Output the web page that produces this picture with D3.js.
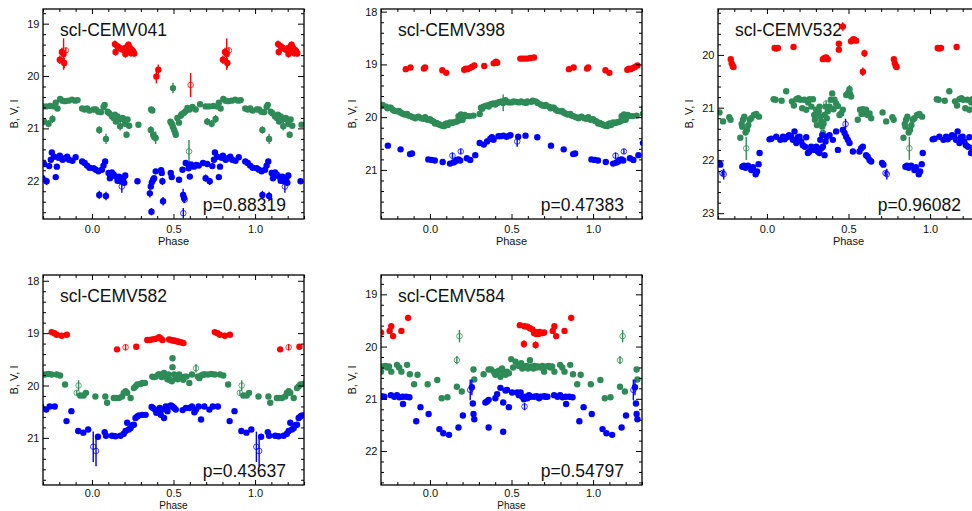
<!DOCTYPE html>
<meta charset="utf-8">
<head>
<style>
  body { margin: 0; background: #fff; }
  svg { font-family: "Liberation Sans", Arial, Helvetica, sans-serif; }
  .axis path { display: none; }
  .axis line { stroke: #000; stroke-width: 1; }
  .axis text { font-size: 11px; fill: #111; }
  .frame { fill: none; stroke: #000; stroke-width: 1.3; }
</style>
</head>
<body>
<div id="graph"></div>
<script src="https://d3js.org/d3.v7.min.js"></script>
<script>

// ---- labels / ticks
var panelNames = ["scl-CEMV041", "scl-CEMV398", "scl-CEMV532", "scl-CEMV582", "scl-CEMV584"];
var periodLabels = ["p=0.88319", "p=0.47383", "p=0.96082", "p=0.43637", "p=0.54797"];
var magRanges = [[18.72, 22.73], [17.95, 21.93], [19.13, 23.11], [17.89, 21.9], [18.63, 22.65]];
var magTicks = [[19, 20, 21, 22], [18, 19, 20, 21], [20, 21, 22, 23], [18, 19, 20, 21], [19, 20, 21, 22]];
var phaseTicks = [0.0, 0.5, 1.0];
var phaseRange = [-0.3, 1.3];

// ---- data: [phase, mag, err, open]
var I041 = [[0.141,19.39,.07],[0.145,19.54,.07],[0.157,19.43,.05],[0.167,19.46,.05],[0.177,19.48,.05],[0.19,19.50,.05],[0.20,19.47,.06],[0.205,19.58,.07],[0.21,19.53,.05],[0.218,19.43,.06],[0.224,19.40,.06],[0.232,19.46,.05],[0.239,19.56,.07],[0.245,19.50,.06],[0.253,19.53,.05],[0.259,19.57,.06],
  [0.395,20.01,.13],[0.407,19.88,.1],[0.605,20.17,.23,1],[0.803,19.69,.08],[0.816,19.54,.08],[0.83,19.75,.1],[0.826,19.58,.3],[0.84,19.51,.05,1]];
var V041 = [[0.01,20.64],[0.024,20.64],[0.039,20.68],[0.045,21.03,.07],[0.055,20.69],[0.071,20.59],[0.078,20.55],[0.086,21.20,.1],[0.096,20.68],[0.106,20.71],[0.122,20.77],[0.133,20.80],[0.14,20.74,.05],[0.147,20.87,.05],[0.157,20.77],[0.167,20.83,.05],[0.173,20.96,.08],[0.188,20.80],[0.196,20.83],[0.204,20.91,.05],[0.212,21.12,.06],[0.218,20.83],[0.228,20.95],[0.285,20.93],
  [0.361,21.03,.07],[0.363,20.64],[0.37,20.66],[0.375,21.12,.05],[0.383,21.17,.08],[0.391,21.18,.12],[0.481,20.87],[0.487,20.90],[0.493,20.93],[0.497,20.23,.1],[0.497,20.98],[0.504,21.03,.06],[0.51,21.08],[0.514,21.12,.06],[0.524,20.80],[0.534,20.89],[0.544,20.76],[0.55,20.73],[0.565,20.70],[0.575,20.67],[0.585,20.61],[0.595,21.44,.22,1],[0.599,20.64],[0.616,20.59],[0.636,20.64],[0.663,20.54],
  [0.697,20.58],[0.707,20.87,.07],[0.718,20.58],[0.734,20.91,.07],[0.744,20.57],[0.758,20.82,.08],[0.768,20.58],[0.778,20.51],[0.789,20.62],[0.805,20.44],[0.819,20.47],[0.835,20.48],[0.856,20.47],[0.878,20.45],[0.898,20.47],[0.912,20.46],[0.94,20.62],[0.955,20.64],[0.97,20.62],[0.985,20.66]];
var B041 = [[0.01,21.76],[0.024,21.79],[0.04,21.82],[0.045,22.27,.08],[0.061,21.79],[0.071,21.71],[0.081,21.63],[0.086,22.29,.08],[0.102,21.85],[0.11,21.95,.06],[0.122,21.84],[0.133,21.88],[0.147,21.92],[0.157,22.0],[0.167,21.92],[0.177,22.01,.05],[0.183,22.11,.12,1],[0.192,21.95],[0.198,22.04,.05],[0.204,21.9],[0.279,22.01],
  [0.355,22.24,.08],[0.361,22.11],[0.365,22.59,.07],[0.367,22.03],[0.375,21.98],[0.381,21.95],[0.391,21.82],[0.424,21.80],[0.428,21.85],[0.432,22.01,.07],[0.436,22.39,.08],[0.483,21.85],[0.489,21.93],[0.534,21.98],[0.555,21.79],[0.559,22.27,.12],[0.565,22.33,.1],[0.569,22.36,.05,1],[0.56,22.62,.1,1],
  [0.575,21.66],[0.592,21.76],[0.6,21.92],[0.607,21.69],[0.625,21.73],[0.64,21.70],[0.655,21.71],[0.681,21.66],[0.697,21.95,.07],[0.707,21.68],[0.722,22.01,.07],[0.738,21.72],[0.748,21.6],[0.754,21.46],[0.768,21.54],[0.778,21.93,.05],[0.785,21.73],[0.795,21.56],[0.803,21.52],[0.82,21.6],[0.834,21.57],[0.848,21.54],[0.86,21.6],[0.88,21.62],[0.90,21.55],[0.94,21.63],[0.955,21.66],[0.97,21.71],[0.985,21.75]];

var I398 = [[0.076,19.11],[0.10,19.16],[0.21,19.10],[0.22,19.08],[0.23,19.09],[0.243,19.07],[0.257,19.05],[0.272,19.02],[0.333,19.03],[0.391,18.98],[0.405,18.95],[0.412,18.97],[0.554,18.89],[0.568,18.89],[0.582,18.89],[0.598,18.89],[0.615,18.88],[0.638,18.87],[0.852,19.09],[0.881,19.06],[0.963,19.08],[0.97,19.06]];
var V398 = [[0.0,20.04],[0.01,20.07],[0.021,20.08],[0.031,20.12],[0.041,20.11],[0.05,20.13],[0.058,20.14],[0.065,20.15],[0.072,20.16],[0.086,20.17,.05],[0.095,20.13],[0.103,20.12],[0.11,20.15],[0.123,20.10],[0.135,20.11],[0.144,20.10],[0.155,20.09],[0.165,20.08],[0.175,19.98],[0.18,20.06],[0.185,20.03],[0.19,19.95],[0.195,20.01],[0.2,20.05],[0.206,19.99],[0.213,19.96],[0.226,19.98],[0.243,19.98],[0.267,19.97],[0.305,19.94],
  [0.313,19.82],[0.32,19.84],[0.329,19.80],[0.34,19.79],[0.35,19.78],[0.36,19.80],[0.37,19.76],[0.38,19.75],[0.391,19.74],[0.40,19.76],[0.412,19.73],[0.42,19.72],[0.432,19.71],[0.44,19.70],[0.449,19.73,.16],[0.463,19.68],[0.47,19.71],[0.484,19.72],[0.5,19.72],[0.514,19.70],[0.53,19.71],[0.545,19.72],[0.56,19.70],[0.576,19.72],[0.59,19.73],[0.597,19.70],[0.621,19.71],[0.63,19.69],[0.648,19.70],[0.66,19.73],
  [0.679,19.76],[0.69,19.78],[0.704,19.79],[0.71,19.77],[0.73,19.80],[0.74,19.83],[0.751,19.82],[0.76,19.82],[0.772,19.86],[0.78,19.88],[0.798,19.89],[0.81,19.88],[0.819,19.91],[0.83,19.93],[0.844,19.95],[0.86,19.94],[0.868,19.97],[0.88,19.98],[0.895,20.0],[0.91,20.02],[0.922,20.0],[0.93,19.99],[0.947,20.02],[0.96,20.03],[0.971,20.0,.05],[0.985,20.05]];
var B398 = [[0.01,20.81],[0.03,20.82],[0.078,20.85],[0.123,20.88],[0.138,20.73,.06,1],[0.144,20.86],[0.154,20.84],[0.165,20.81],[0.175,20.80],[0.185,20.82],[0.189,20.65,.05,1],[0.226,20.78],[0.247,20.81],[0.278,20.72],[0.305,20.49],[0.33,20.52],[0.35,20.46],[0.37,20.41],[0.38,20.38],[0.39,20.43],[0.42,20.36],[0.434,20.36],[0.45,20.35],[0.47,20.37],[0.486,20.35],[0.494,20.34],[0.535,20.46,.1,1],[0.541,20.37],[0.586,20.35],[0.658,20.38],[0.742,20.54],[0.82,20.61],[0.878,20.70],[0.89,20.69],[0.99,20.80]];

var I532 = [[0.047,19.87],[0.057,19.88],[0.067,19.87],[0.163,19.85],[0.343,20.08],[0.353,20.06],[0.363,20.05],[0.373,20.08],[0.441,19.79],[0.441,19.90],[0.465,19.46,.08],[0.516,19.74],[0.526,19.72],[0.53,19.70],[0.536,19.71],[0.547,19.73],[0.588,20.32,.08],[0.598,19.97,.07],[0.778,20.08],[0.784,20.16],[0.79,20.21],[0.795,20.23]];
var V532 = [[0.041,20.84],[0.053,20.85],[0.09,20.87],[0.118,20.69],[0.153,20.88],[0.165,20.96],[0.18,20.84],[0.192,20.82],[0.204,20.85],[0.216,21.01],[0.229,20.85],[0.241,21.04],[0.253,20.90],[0.261,20.84],[0.273,20.98],[0.282,20.84],[0.29,21.14],[0.294,21.23],[0.302,21.04],[0.306,21.33],[0.312,21.11],[0.318,21.07],[0.322,20.98],[0.327,21.17],[0.333,21.26],[0.339,21.36],[0.343,21.48],[0.347,21.30],[0.353,21.14],[0.359,20.98],[0.363,20.92,.05,1],[0.367,21.20],[0.373,21.07],[0.384,20.98],[0.392,20.85],[0.40,20.73],[0.408,21.03],[0.414,20.85],[0.424,20.92],[0.435,20.97],[0.445,21.14],[0.455,21.11],[0.465,21.04],
  [0.486,20.76],[0.494,20.74],[0.50,20.71],[0.506,20.65,.08],[0.51,20.74],[0.516,20.79],[0.557,21.23],[0.571,21.04],[0.58,21.12],[0.588,21.03],[0.598,21.11],[0.608,21.04],[0.618,21.14],[0.629,21.11],[0.639,21.20],[0.709,21.09],[0.731,21.26],[0.769,21.18],[0.777,21.23],
  [0.837,21.57],[0.845,21.31],[0.849,21.36],[0.853,21.23],[0.861,21.17],[0.869,21.47],[0.873,21.77,.22,1],[0.878,21.42],[0.886,21.33],[0.894,21.23],[0.904,21.20],[0.92,21.14],[0.935,21.12],[0.951,21.17]];
var B532 = [[0.016,21.60],[0.027,21.59],[0.057,21.55],[0.082,21.61],[0.098,21.55],[0.108,21.60],[0.122,21.56],[0.135,21.52],[0.149,21.55],[0.159,21.61],[0.169,21.45],[0.18,21.67],[0.19,21.56],[0.2,21.55],[0.21,21.64],[0.22,21.71],[0.233,21.74],[0.241,21.56],[0.251,21.86],[0.261,21.83],[0.271,21.74],[0.282,21.77],[0.292,21.80],[0.302,21.74],[0.312,21.83],[0.322,21.86],[0.327,21.61],[0.333,21.77],[0.339,21.52],[0.343,21.74],[0.353,21.90],[0.359,21.64],[0.367,21.55],[0.384,21.52],[0.404,21.61],[0.424,21.45],[0.435,21.80],[0.465,21.42],[0.476,21.48],[0.482,21.31,.1,1],[0.486,21.55],[0.496,21.61],[0.506,21.67],[0.527,21.83],[0.567,21.83],[0.578,21.77],[0.588,21.74],[0.608,21.90],[0.618,21.93],[0.629,21.99],[0.639,22.02],
  [0.706,22.05],[0.714,22.08],[0.727,22.24,.05,1],[0.735,22.26,.1,1],[0.849,22.12],[0.859,22.10],[0.869,22.14],[0.884,22.10],[0.904,22.18],[0.914,22.13],[0.931,22.26,.06],[0.939,22.21],[0.949,22.07],[0.955,21.86]];

var I582 = [[0.154,19.31],[0.206,19.27,.06,1],[0.272,19.26],[0.339,19.13],[0.354,19.13],[0.37,19.12],[0.387,19.11],[0.401,19.10],[0.412,19.08],[0.422,19.10],[0.432,19.13],[0.473,19.12],[0.484,19.13],[0.494,19.14],[0.504,19.14],[0.514,19.15],[0.525,19.16],[0.535,19.17],[0.551,19.18],[0.561,19.19],[0.753,18.98],[0.77,19.0],[0.784,19.03],[0.815,19.05],[0.846,19.03]];
var V582 = [[0.021,20.21],[0.082,20.21],[0.093,20.33],[0.134,20.24],[0.148,20.24],[0.165,20.24],[0.185,20.21],[0.195,20.14],[0.206,20.11],[0.216,20.14],[0.237,20.24],[0.257,20.05],[0.267,20.02],[0.278,19.98],[0.298,19.97],[0.309,19.95],[0.325,19.95],[0.37,19.83],[0.381,19.84],[0.391,19.83],[0.407,19.79],[0.416,19.79],[0.428,19.84],[0.432,19.79],[0.442,19.76],[0.453,19.83],[0.463,19.88],[0.469,19.79],[0.477,19.89],[0.49,19.92],[0.494,19.65],[0.494,19.48],[0.504,19.79],[0.514,19.84],[0.525,19.88],[0.535,19.79],[0.545,19.83],[0.551,19.86],[0.56,19.89],[0.57,19.83],[0.58,19.83],[0.597,19.95],[0.613,19.79],[0.638,19.67,.08,1],[0.648,19.83],[0.658,19.86],[0.669,19.81],[0.683,19.79],
  [0.691,19.79],[0.712,19.79],[0.733,19.78],[0.753,19.79],[0.784,19.79],[0.805,19.81],[0.835,19.98],[0.907,20.14,.05,1],[0.918,20.0,.1,1],[0.928,20.19],[0.949,20.19],[0.963,20.14]];
var B582 = [[0.008,21.17,.29,1],[0.025,21.25,.29,1],[0.037,20.98],[0.078,20.89],[0.086,20.96],[0.123,20.96],[0.144,20.97],[0.175,20.96],[0.195,20.92],[0.206,20.87],[0.216,20.71],[0.226,20.84],[0.237,20.81],[0.247,20.76],[0.257,20.75],[0.267,20.62],[0.278,20.59],[0.288,20.57],[0.309,20.56],[0.329,20.56],[0.366,20.41],[0.374,20.43],[0.387,20.46],[0.395,20.52],[0.407,20.49],[0.416,20.43],[0.422,20.56],[0.432,20.46],[0.442,20.62],[0.453,20.40],[0.463,20.49],[0.473,20.40],[0.484,20.38],[0.494,20.40],[0.504,20.43],[0.514,20.46],[0.556,20.47],[0.576,20.43],[0.597,20.43],[0.613,20.40],[0.628,20.51],[0.638,20.46],[0.654,20.40],[0.669,20.65],[0.689,20.40],[0.72,20.46],[0.741,20.40],[0.772,20.40],[0.844,20.68],[0.874,20.49],[0.916,20.87],[0.947,20.90],[0.977,20.84]];

var I584 = [[0.551,19.59],[0.576,19.95,.07],[0.580,19.61,.05],[0.597,19.62],[0.613,19.65],[0.628,19.67],[0.638,19.74],[0.645,19.72],[0.648,19.97,.07],[0.652,19.76],[0.658,19.74],[0.665,19.76],[0.672,19.72],[0.68,19.74],[0.69,19.74],[0.70,19.73],[0.753,19.70],[0.763,19.61],[0.774,19.80],[0.825,19.70],[0.866,19.45,.06]];
var V584 = [[0.045,20.64],[0.072,20.99],[0.107,20.97],[0.165,20.77],[0.165,20.26,.08,1],[0.181,19.80,.12,1],[0.195,20.86],[0.267,20.44],[0.272,20.63],[0.329,20.53],[0.36,20.44],[0.374,20.44],[0.391,20.48],[0.401,20.54],[0.412,20.51],[0.422,20.46],[0.432,20.58],[0.442,20.42],[0.453,20.51],[0.463,20.54],[0.473,20.48],[0.484,20.51],[0.498,20.24],[0.51,20.40],[0.525,20.29],[0.545,20.37],[0.56,20.32],[0.566,20.42],[0.58,20.38],[0.593,20.37],[0.601,20.42],[0.613,20.26],[0.621,20.38],[0.634,20.42],[0.642,20.37],[0.654,20.40],[0.663,20.38],[0.679,20.40],[0.69,20.37],
  [0.70,20.48],[0.716,20.38],[0.728,20.37],[0.739,20.40],[0.749,20.38],[0.763,20.48],[0.798,20.35],[0.811,20.40],[0.825,20.48],[0.86,20.35],[0.877,20.53],[0.903,20.72],[0.924,20.54],[0.986,20.72]];
var B584 = [[0.058,21.58],[0.082,21.66],[0.117,21.69],[0.175,21.55],[0.202,21.32],[0.247,20.83,.2,1],[0.257,20.78,.15],[0.263,21.09],[0.267,21.29],[0.272,21.39],[0.34,21.07],[0.35,21.05],[0.36,21.02],[0.36,21.55],[0.401,20.99],[0.412,20.91],[0.432,20.79],[0.449,21.07],[0.449,21.63],[0.463,20.84],[0.473,20.83],[0.484,21.16],[0.504,20.88],[0.535,20.88],[0.545,20.93],[0.556,20.88],[0.566,20.96],[0.576,21.01],[0.58,21.15,.07,1],[0.586,20.96],[0.597,20.99],[0.607,20.93],[0.617,20.96],[0.638,20.96],[0.654,20.95],[0.669,20.99],[0.679,20.96],[0.70,20.95],[0.708,20.96],[0.72,20.96],[0.761,20.93],[0.782,20.96],[0.798,20.93],[0.813,20.97],[0.835,21.10],[0.833,20.96],[0.854,20.96],[0.874,20.97],[0.916,21.43],[0.942,21.16],[0.992,21.29]];

var bandColors = ["#ff0000", "#2e8b57", "#0000ff"];   // I, V, B
var series = [[I041, V041, B041], [I398, V398, B398], [I532, V532, B532], [I582, V582, B582], [I584, V584, B584]];

// ---- layout
var W = 261, H = 210;
var boxes = [{x: 43, y: 9}, {x: 381, y: 9}, {x: 718, y: 9}, {x: 43, y: 275}, {x: 381, y: 275}];

var svg = d3.select("#graph").append("svg")
  .attr("width", 972)
  .attr("height", 511);

var defs = svg.append("defs");
defs.append("clipPath").attr("id", "plotclip")
  .append("rect").attr("x", 0).attr("y", 0).attr("width", W).attr("height", H);

var minorX = d3.range(-3, 14).map(function(d){ return d / 10; })
  .filter(function(d){ return phaseTicks.indexOf(d) < 0; });

boxes.forEach(function(b, i){
  var g = svg.append("g").attr("transform", "translate(" + b.x + "," + b.y + ")");
  var bottomRow = b.y > 200;

  var x = d3.scaleLinear().domain(phaseRange).range([0, W]);
  var y = d3.scaleLinear().domain(magRanges[i]).range([0, H]);

  var lo = magRanges[i][0], hi = magRanges[i][1];
  var minorY = d3.range(Math.ceil(lo * 5), Math.floor(hi * 5) + 1)
    .map(function(d){ return d / 5; })
    .filter(function(d){ return magTicks[i].indexOf(d) < 0; });

  // name + period
  g.append("text")
    .attr("x", 17).attr("y", 27)
    .style("font-size", "17.5px").style("fill", "#111")
    .text(panelNames[i]);
  g.append("text")
    .attr("x", W - 18).attr("y", H - 8.5)
    .attr("text-anchor", "end")
    .style("font-size", "17.5px").style("fill", "#111")
    .text(periodLabels[i]);

  // points, repeated every cycle
  var pts = g.append("g").attr("clip-path", "url(#plotclip)");
  series[i].forEach(function(band, k){
    var col = bandColors[k];
    var rows = [];
    band.forEach(function(d){
      [-1, 0, 1].forEach(function(c){
        var ph = d[0] + c;
        if (ph >= phaseRange[0] - 0.02 && ph <= phaseRange[1] + 0.02) rows.push({p: ph, m: d[1], e: d[2] || 0, open: d[3] === 1});
      });
    });
    pts.selectAll(null).data(rows.filter(function(d){ return d.e > 0; }))
      .enter().append("line")
      .attr("x1", function(d){ return x(d.p); })
      .attr("x2", function(d){ return x(d.p); })
      .attr("y1", function(d){ return y(d.m - d.e); })
      .attr("y2", function(d){ return y(d.m + d.e); })
      .attr("stroke", col)
      .attr("stroke-width", 1.4);
    pts.selectAll(null).data(rows)
      .enter().append("circle")
      .attr("cx", function(d){ return x(d.p); })
      .attr("cy", function(d){ return y(d.m); })
      .attr("r", function(d){ return d.open ? 2.8 : 3.2; })
      .attr("fill", function(d){ return d.open ? "none" : col; })
      .attr("stroke", col)
      .attr("stroke-opacity", function(d){ return d.open ? 0.75 : 0; })
      .attr("stroke-width", 1);
  });

  // axes: ticks inward on all four sides
  g.append("g").attr("class", "axis")
    .attr("transform", "translate(0," + H + ")")
    .call(d3.axisBottom(x).tickValues(phaseTicks).tickSize(-5).tickPadding(bottomRow ? 4.5 : 6.5).tickFormat(d3.format(".1f")));
  g.append("g").attr("class", "axis")
    .attr("transform", "translate(0," + H + ")")
    .call(d3.axisBottom(x).tickValues(minorX).tickSize(-3).tickFormat(""));
  g.append("g").attr("class", "axis")
    .call(d3.axisTop(x).tickValues(phaseTicks).tickSize(-5).tickFormat(""));
  g.append("g").attr("class", "axis")
    .call(d3.axisTop(x).tickValues(minorX).tickSize(-3).tickFormat(""));

  g.append("g").attr("class", "axis")
    .call(d3.axisLeft(y).tickValues(magTicks[i]).tickSize(-6).tickPadding(3.5).tickFormat(d3.format("d")));
  g.append("g").attr("class", "axis")
    .call(d3.axisLeft(y).tickValues(minorY).tickSize(-3).tickFormat(""));
  g.append("g").attr("class", "axis")
    .attr("transform", "translate(" + W + ",0)")
    .call(d3.axisRight(y).tickValues(magTicks[i]).tickSize(-6).tickFormat(""));
  g.append("g").attr("class", "axis")
    .attr("transform", "translate(" + W + ",0)")
    .call(d3.axisRight(y).tickValues(minorY).tickSize(-3).tickFormat(""));

  g.append("rect").attr("class", "frame")
    .attr("width", W).attr("height", H);

  // axis titles (bottom row sits against the page edge)
  g.append("text")
    .attr("x", W / 2).attr("y", bottomRow ? H + 23.9 : H + 26)
    .attr("text-anchor", "middle")
    .style("font-size", bottomRow ? "10px" : "11px").style("fill", "#111")
    .text("Phase");
  g.append("text")
    .attr("transform", "translate(-25," + (H / 2) + ") rotate(-90)")
    .attr("text-anchor", "middle")
    .style("font-size", "11px").style("fill", "#111")
    .text("B, V, I");
});

</script>
</body>
</html>
